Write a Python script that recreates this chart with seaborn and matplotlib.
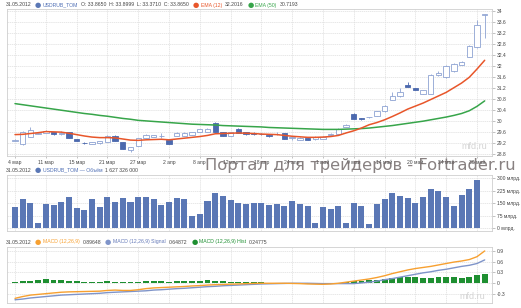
import numpy as np
import matplotlib
matplotlib.use("Agg")
import matplotlib.pyplot as plt
import seaborn as sns

# ---------------- data ----------------
opens  = [29.25, 29.13, 29.42, 29.53, 29.55, 29.57, 29.53, 29.57, 29.33, 29.20,
          29.14, 29.17, 29.22, 29.44, 29.22, 28.92, 29.09, 29.37, 29.42, 29.43,
          29.30, 29.45, 29.45, 29.49, 29.60, 29.58, 29.93, 29.58, 29.45, 29.71,
          29.58, 29.53, 29.52, 29.48, 29.50, 29.55, 29.38, 29.30, 29.37, 29.32,
          29.33, 29.48, 29.52, 29.78, 30.24, 30.10, 30.12, 30.18, 30.34, 30.76,
          30.88, 31.30, 31.18, 30.97, 30.97, 31.65, 31.58, 31.80, 32.04, 32.33,
          32.68, 33.865]
highs  = [29.32, 29.62, 29.76, 29.57, 29.67, 29.59, 29.62, 29.59, 29.34, 29.21,
          29.22, 29.25, 29.47, 29.46, 29.23, 29.04, 29.38, 29.52, 29.48, 29.54,
          29.31, 29.57, 29.58, 29.60, 29.71, 29.73, 29.95, 29.60, 29.60, 29.73,
          29.60, 29.57, 29.54, 29.49, 29.57, 29.56, 29.44, 29.39, 29.38, 29.43,
          29.43, 29.55, 29.72, 29.86, 30.26, 30.11, 30.15, 30.36, 30.58, 31.04,
          31.18, 31.42, 31.20, 31.12, 31.69, 31.80, 32.02, 32.09, 32.17, 32.75,
          33.67, 33.90]
lows   = [29.24, 29.12, 29.40, 29.52, 29.54, 29.49, 29.46, 29.37, 29.24, 29.16,
          29.13, 29.16, 29.21, 29.25, 28.96, 28.85, 29.08, 29.36, 29.41, 29.35,
          29.14, 29.44, 29.44, 29.48, 29.59, 29.57, 29.57, 29.44, 29.44, 29.55,
          29.49, 29.47, 29.49, 29.42, 29.46, 29.32, 29.31, 29.29, 29.30, 29.31,
          29.32, 29.47, 29.51, 29.76, 30.05, 30.04, 30.11, 30.17, 30.33, 30.75,
          30.87, 31.21, 31.12, 30.96, 30.96, 31.63, 31.57, 31.79, 32.03, 32.31,
          32.66, 33.02]
closes = [29.29, 29.58, 29.66, 29.55, 29.63, 29.50, 29.55, 29.38, 29.25, 29.17,
          29.21, 29.24, 29.45, 29.26, 28.97, 29.02, 29.36, 29.48, 29.46, 29.44,
          29.15, 29.55, 29.56, 29.58, 29.69, 29.71, 29.58, 29.45, 29.58, 29.56,
          29.50, 29.52, 29.51, 29.43, 29.51, 29.33, 29.39, 29.38, 29.31, 29.42,
          29.42, 29.50, 29.70, 29.84, 30.06, 30.05, 30.14, 30.34, 30.55, 30.88,
          31.04, 31.22, 31.13, 31.10, 31.67, 31.72, 32.00, 32.07, 32.15, 32.73,
          33.48, 33.865]
ema12 = [29.49, 29.50, 29.53, 29.56, 29.60, 29.59, 29.58, 29.54, 29.49, 29.44,
         29.40, 29.38, 29.38, 29.37, 29.33, 29.29, 29.28, 29.30, 29.31, 29.32,
         29.30, 29.33, 29.36, 29.39, 29.42, 29.46, 29.52, 29.53, 29.54, 29.55,
         29.54, 29.53, 29.51, 29.50, 29.49, 29.46, 29.43, 29.41, 29.39, 29.39,
         29.40, 29.42, 29.46, 29.55, 29.63, 29.73, 29.85, 29.93, 30.03, 30.15,
         30.28, 30.42, 30.53, 30.64, 30.77, 30.90, 31.03, 31.20, 31.37, 31.58,
         31.88, 32.20]
ema50 = [30.62, 30.58, 30.54, 30.50, 30.46, 30.42, 30.38, 30.34, 30.30, 30.26,
         30.23, 30.19, 30.16, 30.12, 30.08, 30.05, 30.01, 29.99, 29.97, 29.95,
         29.93, 29.91, 29.89, 29.87, 29.86, 29.85, 29.84, 29.82, 29.81, 29.80,
         29.79, 29.78, 29.77, 29.75, 29.74, 29.73, 29.72, 29.71, 29.70, 29.69,
         29.68, 29.68, 29.68, 29.69, 29.70, 29.71, 29.73, 29.76, 29.79, 29.82,
         29.86, 29.90, 29.94, 29.98, 30.03, 30.08, 30.13, 30.19, 30.26, 30.36,
         30.52, 30.72]
volume = [129, 177, 149, 32, 145, 139, 155, 185, 121, 107,
          177, 129, 187, 155, 181, 157, 189, 187, 175, 139,
          159, 183, 175, 74, 84, 163, 213, 193, 169, 149,
          145, 153, 153, 139, 145, 133, 161, 145, 131, 30,
          125, 113, 135, 30, 153, 135, 26, 143, 175, 213,
          193, 179, 149, 187, 235, 225, 189, 131, 197, 233,
          289, 3]
macd = [-0.42, -0.37, -0.33, -0.31, -0.29, -0.27, -0.25, -0.24, -0.235, -0.23,
        -0.225, -0.22, -0.20, -0.19, -0.20, -0.20, -0.18, -0.15, -0.13, -0.12,
        -0.11, -0.10, -0.09, -0.075, -0.065, -0.05, -0.04, -0.035, -0.025, -0.02,
        -0.01, -0.005, 0.0, 0.0, 0.0, 0.0, -0.005, -0.01, -0.02, -0.025,
        -0.03, -0.02, 0.0, 0.03, 0.06, 0.09, 0.12, 0.16, 0.21, 0.27,
        0.32, 0.37, 0.41, 0.44, 0.47, 0.51, 0.55, 0.59, 0.62, 0.66,
        0.74, 0.90]
signal = [-0.46, -0.44, -0.41, -0.39, -0.37, -0.35, -0.33, -0.32, -0.31, -0.30,
          -0.29, -0.28, -0.26, -0.25, -0.24, -0.23, -0.22, -0.21, -0.19, -0.18,
          -0.165, -0.15, -0.14, -0.125, -0.11, -0.095, -0.085, -0.07, -0.06, -0.05,
          -0.04, -0.03, -0.02, -0.015, -0.01, -0.005, 0.0, 0.0, 0.0, -0.005,
          -0.01, -0.01, -0.01, -0.01, -0.01, 0.01, 0.03, 0.06, 0.10, 0.13,
          0.17, 0.21, 0.25, 0.29, 0.32, 0.36, 0.39, 0.43, 0.47, 0.50,
          0.55, 0.65]
hist = [0.03, 0.065, 0.075, 0.085, 0.11, 0.09, 0.09, 0.075, 0.055, 0.045,
        0.045, 0.045, 0.055, 0.045, 0.04, 0.03, 0.045, 0.055, 0.055, 0.055,
        0.045, 0.055, 0.055, 0.065, 0.065, 0.085, 0.065, 0.055, 0.045, 0.035,
        0.035, 0.025, 0.025, 0.02, 0.01, 0.005, 0.005, -0.01, -0.01, -0.01,
        -0.01, 0.005, 0.01, 0.04, 0.065, 0.075, 0.085, 0.10, 0.11, 0.15,
        0.165, 0.165, 0.165, 0.155, 0.155, 0.165, 0.165, 0.165, 0.15, 0.185,
        0.23, 0.26]
date_labels = ["4 мар", "11 мар", "15 мар", "21 мар", "27 мар", "2 апр", "8 апр",
               "12 апр", "18 апр", "24 апр", "1 май", "9 май", "14 май", "20 май",
               "24 май", "30 май"]
price_ticks = [28.8, 29.2, 29.6, 30, 30.4, 30.8, 31.2, 31.6, 32, 32.4, 32.8, 33.2, 33.6, 34]
vol_ticks = [0, 75, 150, 225, 300]
macd_ticks = [-0.3, 0, 0.3, 0.6, 0.9]

# ---------------- styling ----------------
W, H = 521, 308
sns.set_theme(style="white")
plt.rcParams['font.family'] = ['Liberation Sans', 'DejaVu Sans']

C_UP_EDGE = "#8da2d2"
C_DOWN = "#4c69ae"
C_VOL = "#5a77b5"
C_EMA12 = "#e8562a"
C_EMA50 = "#37a54a"
C_MACD = "#f7a030"
C_SIG = "#7f94c9"
C_HIST = "#1e8f31"
C_GRID = "#dedede"
C_SPINE = "#cfcfcf"
C_TXT = "#444444"

fig = plt.figure(figsize=(W / 100, H / 100), dpi=100)
fig.patch.set_facecolor("white")

def add_ax(top, bottom, left=7, right=492):
    return fig.add_axes([left / W, 1 - bottom / H, (right - left) / W, (bottom - top) / H])

ax1 = add_ax(9, 156)
ax2 = add_ax(175, 231)
ax3 = add_ax(247, 303)

n = len(closes)
idx = np.arange(n)
grid_x = idx[::4]

def style(ax, yticks, ylabels, ylim):
    ax.set_xlim(-1.04, 61.95)
    ax.set_ylim(*ylim)
    ax.set_facecolor("white")
    for s in ax.spines.values():
        s.set_color(C_SPINE)
        s.set_linewidth(0.6)
    ax.yaxis.tick_right()
    ax.set_yticks(yticks)
    ax.set_yticklabels(ylabels)
    ax.tick_params(axis='y', which='both', right=True, left=False, length=2, width=0.5,
                   color="#aaaaaa", labelsize=3.6, labelcolor=C_TXT, pad=1.5)
    ax.set_xticks(grid_x)
    ax.grid(True, color=C_GRID, linestyle=(0, (2, 1)), linewidth=0.5)
    ax.set_axisbelow(True)
    ax.set_xlabel("")
    ax.set_ylabel("")

# ---------------- top panel: candles + EMA ----------------
style(ax1, price_ticks, [f"{t:g}" for t in price_ticks], (28.71, 34.07))
o = np.array(opens); c = np.array(closes); h = np.array(highs); l = np.array(lows)
up = c >= o
ax1.vlines(idx[up], l[up], h[up], color=C_UP_EDGE, linewidth=0.6, zorder=2)
ax1.vlines(idx[~up], l[~up], h[~up], color=C_DOWN, linewidth=0.6, zorder=2)
body_lo = np.minimum(o, c)
body_h = np.maximum(np.abs(c - o), 0.012)
ax1.bar(idx[up], body_h[up], bottom=body_lo[up], width=0.7, facecolor="white",
        edgecolor=C_UP_EDGE, linewidth=0.6, zorder=3)
ax1.bar(idx[~up], body_h[~up], bottom=body_lo[~up], width=0.7, facecolor=C_DOWN,
        edgecolor=C_DOWN, linewidth=0.6, zorder=3)
sns.lineplot(x=idx, y=ema50, ax=ax1, color=C_EMA50, linewidth=1.1, zorder=4)
sns.lineplot(x=idx, y=ema12, ax=ax1, color=C_EMA12, linewidth=1.1, zorder=4)
ax1.set_xticklabels(date_labels)
ax1.tick_params(axis='x', bottom=True, length=1.5, width=0.5, color="#aaaaaa",
                labelsize=3.6, labelcolor=C_TXT, pad=1.5)
ax1.text(0.99, 0.035, "mfd.ru", transform=ax1.transAxes, ha='right', va='bottom',
         fontsize=6.5, color="#d4d4d4", zorder=1)

# ---------------- volume panel ----------------
sns.barplot(x=idx, y=volume, ax=ax2, native_scale=True, color=C_VOL, saturation=1,
            width=0.78, linewidth=0, edgecolor=C_VOL, zorder=3)
style(ax2, vol_ticks, [f"{t} млрд." for t in vol_ticks], (-16, 318))
ax2.tick_params(axis='x', bottom=False, labelbottom=False)

# ---------------- MACD panel ----------------
sns.barplot(x=idx, y=hist, ax=ax3, native_scale=True, color=C_HIST, saturation=1,
            width=0.76, linewidth=0, edgecolor=C_HIST, zorder=3)
sns.lineplot(x=idx, y=signal, ax=ax3, color=C_SIG, linewidth=1.0, zorder=4)
sns.lineplot(x=idx, y=macd, ax=ax3, color=C_MACD, linewidth=1.0, zorder=4)
style(ax3, macd_ticks, [f"{t:g}" for t in macd_ticks], (-0.55, 1.01))
ax3.tick_params(axis='x', bottom=False, labelbottom=False)
ax3.text(0.985, 0.04, "mfd.ru", transform=ax3.transAxes, ha='right', va='bottom',
         fontsize=6.5, color="#d4d4d4", zorder=1)

# ---------------- headers (laid out left to right) ----------------
fig.canvas.draw()
renderer = fig.canvas.get_renderer()
HS = 3.7

def header(y, pieces, x=6):
    for kind, s, color, gap in pieces:
        if kind == "dot":
            t = fig.text(x / W, 1 - y / H, "●", color=color, fontsize=5.2,
                         va='center', ha='left', family=['DejaVu Sans'])
        else:
            t = fig.text(x / W, 1 - y / H, s, color=color, fontsize=HS,
                         va='center', ha='left')
        bb = t.get_window_extent(renderer)
        x += bb.width + gap

header(5, [("t", "31.05.2012", C_TXT, 3), ("dot", "", C_VOL, 1.5),
           ("t", "USDRUB_TOM", "#4f6fb5", 3),
           ("t", "O: 33.8650  H: 33.8999  L: 33.3710  C: 33.8650", C_TXT, 4),
           ("dot", "", C_EMA12, 1.5), ("t", "EMA (12)", C_EMA12, 3),
           ("t", "32.2016", C_TXT, 4), ("dot", "", C_EMA50, 1.5),
           ("t", "EMA (50)", C_EMA50, 3), ("t", "30.7193", C_TXT, 0)])
header(170, [("t", "31.05.2012", C_TXT, 3), ("dot", "", C_VOL, 1.5),
             ("t", "USDRUB_TOM — Объём", "#4f6fb5", 3),
             ("t", "1 627 326 000", C_TXT, 0)])
header(242, [("t", "31.05.2012", C_TXT, 3), ("dot", "", C_MACD, 1.5),
             ("t", "MACD (12,26,9)", C_MACD, 3), ("t", "0.89648", C_TXT, 4),
             ("dot", "", C_SIG, 1.5), ("t", "MACD (12,26,9) Signal", "#6479b8", 3),
             ("t", "0.64872", C_TXT, 4), ("dot", "", C_HIST, 1.5),
             ("t", "MACD (12,26,9) Hist", C_HIST, 3), ("t", "0.24775", C_TXT, 0)])

# watermark
fig.text(205 / W, 1 - 170 / H, "Портал для трейдеров - Fortrader.ru", fontsize=11.8,
         color="#6b6262", alpha=0.8, ha='left', va='baseline', zorder=10,
         family=['DejaVu Sans'])

fig.savefig("out.png", dpi=100, facecolor="white")
